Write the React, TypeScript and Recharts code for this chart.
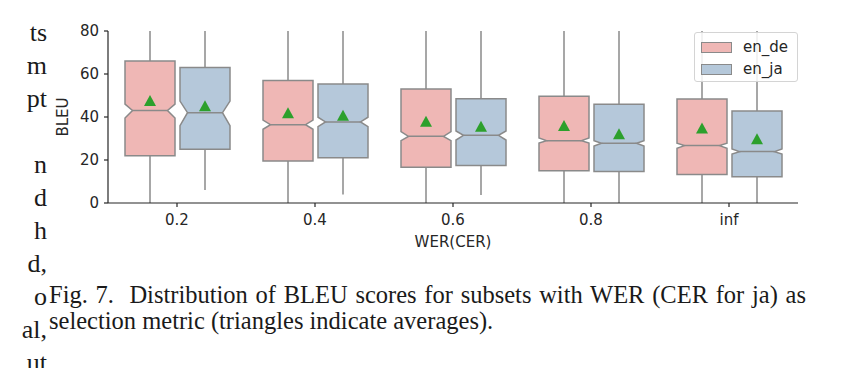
import React from "react";
import { ComposedChart, Bar, XAxis, YAxis, Legend } from "recharts";

const categories = ["0.2", "0.4", "0.6", "0.8", "inf"];
const yTicks = [0, 20, 40, 60, 80];

// en_de boxes
const deWhiskerLow = [0, 0, 0, 0, 0];
const deQ1 = [22, 19.5, 16.6, 15, 13.3];
const deNotchLow = [39.5, 34.3, 29, 27.9, 25.4];
const deMedian = [43, 36.4, 31, 29, 26.7];
const deNotchHigh = [46, 38.6, 33.2, 30.2, 27.8];
const deQ3 = [66, 57, 53, 49.6, 48.4];
const deWhiskerHigh = [80, 80, 80, 80, 80];
const deMean = [47.4, 41.8, 37.8, 35.8, 34.7];

// en_ja boxes
const jaWhiskerLow = [6, 4, 3.7, 0, 0];
const jaQ1 = [25, 21, 17.4, 14.6, 12.2];
const jaNotchLow = [36, 35.5, 29.3, 26.5, 22.8];
const jaMedian = [42, 37.7, 31.5, 27.8, 23.9];
const jaNotchHigh = [47.4, 39.9, 33.5, 29, 25.1];
const jaQ3 = [63, 55.3, 48.5, 45.9, 42.8];
const jaWhiskerHigh = [80, 80, 80, 80, 80];
const jaMean = [45, 40.6, 35.5, 32, 29.6];

const leftText = ["ts", "m", "pt", "", "n", "d", "h", "d,", "o", "al,", "ut"];

const colors: Record<string, string> = { en_de: "#efb7b5", en_ja: "#b5c8da" };
const edge = "#8a8a8a";
const ink = "#262626";
const font = "DejaVu Sans";

const rows = categories.map((cat, i) => ({
  cat,
  en_de: {
    lo: deWhiskerLow[i], q1: deQ1[i], ciLo: deNotchLow[i], med: deMedian[i],
    ciHi: deNotchHigh[i], q3: deQ3[i], hi: deWhiskerHigh[i], mean: deMean[i],
  },
  en_ja: {
    lo: jaWhiskerLow[i], q1: jaQ1[i], ciLo: jaNotchLow[i], med: jaMedian[i],
    ciHi: jaNotchHigh[i], q3: jaQ3[i], hi: jaWhiskerHigh[i], mean: jaMean[i],
  },
}));

// the bar spans whisker-low..whisker-high, everything else is placed on that scale
const boxShape = (series: "en_de" | "en_ja") => (props: any) => {
  const { x, y, width, height, payload } = props;
  const s = payload[series];
  const toY = (v: number) => y + ((s.hi - v) / (s.hi - s.lo)) * height;
  const L = x;
  const R = x + width;
  const cx = x + width / 2;
  const k = width * 0.15;
  const pts = [
    [L, toY(s.q1)], [R, toY(s.q1)], [R, toY(s.ciLo)], [R - k, toY(s.med)],
    [R, toY(s.ciHi)], [R, toY(s.q3)], [L, toY(s.q3)], [L, toY(s.ciHi)],
    [L + k, toY(s.med)], [L, toY(s.ciLo)],
  ].map((p) => p.join(",")).join(" ");
  const my = toY(s.mean);
  return (
    <g>
      <line x1={cx} x2={cx} y1={toY(s.lo)} y2={toY(s.q1)} stroke={edge} strokeWidth={1.5} />
      <line x1={cx} x2={cx} y1={toY(s.q3)} y2={toY(s.hi)} stroke={edge} strokeWidth={1.5} />
      <polygon points={pts} fill={colors[series]} stroke={edge} strokeWidth={1.5} />
      <line x1={L + k} x2={R - k} y1={toY(s.med)} y2={toY(s.med)} stroke={edge} strokeWidth={1.5} />
      <polygon
        points={`${cx - 6},${my + 5} ${cx + 6},${my + 5} ${cx},${my - 6}`}
        fill="#2ca02c"
      />
    </g>
  );
};

const LegendBox = ({ payload }: any) => (
  <div
    style={{
      background: "rgba(255,255,255,0.85)",
      border: "1px solid #d4d4d4",
      borderRadius: 3,
      width: 104,
      height: 50,
      boxSizing: "border-box",
      paddingTop: 3,
      paddingLeft: 6,
    }}
  >
    {(payload || []).map((entry: any) => (
      <div key={entry.value} style={{ display: "flex", alignItems: "center", height: 22 }}>
        <span
          style={{
            width: 31,
            height: 11,
            boxSizing: "border-box",
            background: colors[entry.value],
            border: `1px solid ${edge}`,
          }}
        />
        <span style={{ marginLeft: 11, fontSize: 15, fontFamily: font, color: ink }}>
          {entry.value}
        </span>
      </div>
    ))}
  </div>
);

const tickStyle = { fill: ink, fontSize: 15, fontFamily: font };

export default function App() {
  return (
    <div
      style={{
        position: "absolute",
        left: 0,
        top: 0,
        width: 853,
        height: 368,
        overflow: "hidden",
        background: "#fff",
      }}
    >
      <div
        style={{
          position: "absolute",
          left: 0,
          top: 16,
          width: 47,
          textAlign: "right",
          fontFamily: "Liberation Serif",
          fontSize: 26,
          lineHeight: "33px",
          color: "#1a1a1a",
        }}
      >
        {leftText.map((t, i) => (
          <div key={i} style={{ height: 33 }}>{t}</div>
        ))}
      </div>

      <div style={{ position: "absolute", left: 0, top: 0 }}>
        <ComposedChart
          width={853}
          height={260}
          data={rows}
          margin={{ top: 31, right: 55, left: 18, bottom: 12 }}
          barSize={50}
          barGap={5}
        >
          <XAxis
            dataKey="cat"
            height={45}
            tick={tickStyle}
            tickSize={4}
            tickMargin={7}
            stroke={ink}
            strokeWidth={1.2}
            tickLine={{ stroke: ink }}
            label={(p: any) => {
              const vb = p.viewBox;
              return (
                <text
                  x={vb.x + vb.width / 2}
                  y={vb.y + 44}
                  textAnchor="middle"
                  fill={ink}
                  fontSize={15}
                  fontFamily={font}
                >
                  WER(CER)
                </text>
              );
            }}
          />
          <XAxis xAxisId="top" dataKey="cat" orientation="top" height={0} tick={false} tickLine={false} stroke={ink} strokeWidth={1.2} />
          <YAxis
            width={90}
            domain={[0, 80]}
            ticks={yTicks}
            tick={tickStyle}
            tickSize={4}
            tickMargin={5}
            stroke={ink}
            strokeWidth={1.2}
            label={(p: any) => {
              const vb = p.viewBox;
              const cx = vb.x + 45;
              const cy = vb.y + vb.height / 2;
              return (
                <text
                  x={cx}
                  y={cy}
                  transform={`rotate(-90 ${cx} ${cy})`}
                  textAnchor="middle"
                  dominantBaseline="central"
                  fill={ink}
                  fontSize={15}
                  fontFamily={font}
                >
                  BLEU
                </text>
              );
            }}
          />
          <YAxis yAxisId="right" orientation="right" width={0} domain={[0, 80]} tick={false} tickLine={false} stroke={ink} strokeWidth={1.2} />
          <Legend
            layout="vertical"
            align="center"
            verticalAlign="middle"
            content={<LegendBox />}
            wrapperStyle={{ left: 694, top: 32, width: 104, height: 50 }}
          />
          <Bar
            name="en_de"
            dataKey={(r: any) => [r.en_de.lo, r.en_de.hi]}
            fill={colors.en_de}
            shape={boxShape("en_de")}
            isAnimationActive={false}
          />
          <Bar
            name="en_ja"
            dataKey={(r: any) => [r.en_ja.lo, r.en_ja.hi]}
            fill={colors.en_ja}
            shape={boxShape("en_ja")}
            isAnimationActive={false}
          />
        </ComposedChart>
      </div>

      <div
        style={{
          position: "absolute",
          left: 49,
          top: 282,
          width: 757,
          fontFamily: "Liberation Serif",
          fontSize: 24.5,
          lineHeight: "26px",
          color: "#1a1a1a",
        }}
      >
        <div style={{ textAlign: "justify", textAlignLast: "justify" }}>
          Fig. 7.&nbsp; Distribution of BLEU scores for subsets with WER (CER for ja) as
        </div>
        <div>selection metric (triangles indicate averages).</div>
      </div>
    </div>
  );
}
